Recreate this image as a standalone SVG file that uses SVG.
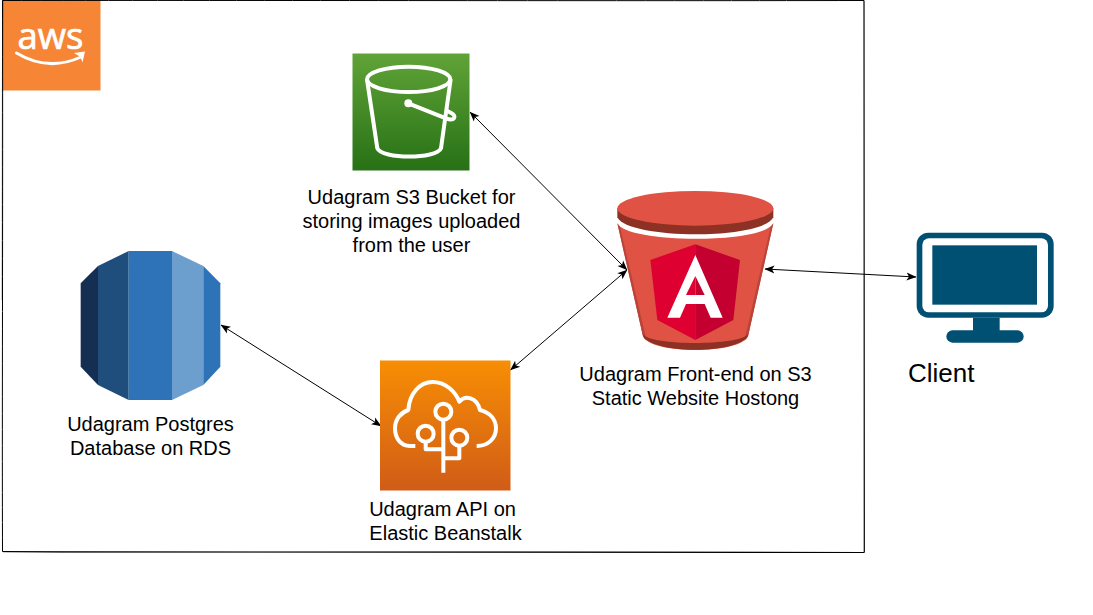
<svg xmlns="http://www.w3.org/2000/svg" width="1093" height="615" viewBox="0 0 1093 615">
<style>
.lbl{font-family:"Liberation Sans",Arial,sans-serif;font-size:20px;fill:#000;text-anchor:middle}
.conn{fill:none;stroke:#000;stroke-width:1;marker-start:url(#ah);marker-end:url(#ah)}
.w{fill:none;stroke:#fff;stroke-width:12;stroke-linejoin:round}
</style>
<defs>
<marker id="ah" viewBox="0 0 10 10" refX="9.500" refY="5" markerWidth="10" markerHeight="10" markerUnits="userSpaceOnUse" orient="auto-start-reverse"><path d="M0 1 L10 5 L0 9 L2.500 5Z" fill="#000"/></marker>
<linearGradient id="gs3" x1="0" y1="0" x2="0" y2="1"><stop offset="0" stop-color="#60a337"/><stop offset="1" stop-color="#277116"/></linearGradient>
<linearGradient id="geb" x1="0" y1="0" x2="0" y2="1"><stop offset="0" stop-color="#f78e04"/><stop offset="1" stop-color="#d05c17"/></linearGradient>
</defs>
<rect width="1093" height="615" fill="#fff"/>
<g id="aws-logo">
<rect x="2" y="0" width="98.500" height="90.500" fill="#f68536"/>
<text x="50.500" y="49" font-family="'Open Sans','Liberation Sans',sans-serif" font-size="36" fill="#fff" stroke="#fff" stroke-width=".7" text-anchor="middle" textLength="66" lengthAdjust="spacingAndGlyphs">aws</text>
<path d="M16.500 53 Q48 72 81 57" fill="none" stroke="#fff" stroke-width="3" stroke-linecap="round"/>
<path d="M74 53 L85 51.500 L82.500 62.500 L80.500 57 Z" fill="#fff"/>
</g>
<g id="frame" fill="none" stroke="#000">
<path d="M2.500 0.500 C200 0.200 600 1 864 0.500" stroke-width="1"/>
<path d="M864 0.500 C864.500 200 863.800 400 864.300 552.500" stroke-width="1.200"/>
<path d="M864.300 552.500 C600 552 300 553.500 2.500 551.500" stroke-width="1.200"/>
<path d="M2.500 551.500 C2 400 3 200 2.500 0.500" stroke-width="1"/>
<path d="M3 552 C300 552.500 500 551.500 780 552.500" stroke-width=".6" stroke-opacity=".6"/>
<path d="M2 300 C2.500 200 1.800 100 3 1" stroke-width=".6" stroke-opacity=".6"/>
</g>
<g id="connectors">
<path class="conn" d="M470 112 L627 270"/>
<path class="conn" d="M510.500 370 L627 270"/>
<path class="conn" d="M765 269 L916 277"/>
<path class="conn" d="M221 325 L381 426"/>
</g>
<g id="s3-bucket">
<rect x="352.500" y="53.500" width="117" height="117" fill="url(#gs3)"/>
<g transform="translate(340 40) scale(.33333)">
<ellipse cx="206" cy="118" rx="125" ry="38" class="w"/>
<path class="w" d="M81 118 L112 325 C125 358 290 358 303 325 L332 118"/>
<circle cx="205" cy="190" r="12" fill="#fff"/>
<path class="w" d="M205 190 L318 235 C345 245 350 228 335 220 L318 211"/>
</g>
<text class="lbl" x="411.500" y="204">Udagram S3 Bucket for</text>
<text class="lbl" x="411.500" y="228">storing images uploaded</text>
<text class="lbl" x="411.500" y="252">from the user</text>
</g>
<g id="frontend">
<g transform="translate(600 180) scale(.33333)">
<path d="M52 130 L128 465 C140 525 432 525 445 465 L520 130 C490 192 82 192 52 130Z" fill="#e05243"/>
<path d="M52 130 L128 465 C130 472 134 478 140 482 L60 140Z" fill="#b8443a"/>
<path d="M520 130 L445 465 C443 472 439 478 433 482 L512 140Z" fill="#b8443a"/>
<path d="M128 462 C140 525 432 525 445 462 C420 498 150 498 128 462Z" fill="#8c3123"/>
<path d="M52 85 V112 C85 180 487 180 520 112 V85Z" fill="#8c3123"/>
<ellipse cx="286" cy="85" rx="234" ry="52" fill="#e05243"/>
<path d="M286 193 L151 240 L172 420 L286 480Z" fill="#dd0031"/>
<path d="M286 193 L420 240 L400 420 L286 480Z" fill="#c3002f"/>
<path d="M286 225 L202 413 H240 L258 372 H314 L332 413 H368Z" fill="#fff"/>
<path d="M286 288 L258 345 H286Z" fill="#dd0031"/>
<path d="M286 288 L314 345 H286Z" fill="#c3002f"/>
</g>
<text class="lbl" x="695.500" y="381">Udagram Front-end on S3</text>
<text class="lbl" x="695.500" y="405">Static Website Hostong</text>
</g>
<g id="api">
<rect x="380" y="360.500" width="130.500" height="130" fill="url(#geb)"/>
<g transform="translate(370 350) scale(.33333)">
<path class="w" d="M136 288 H120 C90 288 75 262 75 235 C75 208 92 188 115 180 C118 130 150 96 188 96 C225 96 255 122 268 155 C285 135 320 140 330 180 C360 188 378 208 378 235 C378 265 355 288 320 288"/>
<circle cx="220" cy="185" r="24" class="w"/>
<circle cx="167" cy="251" r="24" class="w"/>
<circle cx="268" cy="263" r="24" class="w"/>
<path class="w" d="M220 209 V368 M167 275 V298 H220 M268 287 V325 H220"/>
</g>
<text class="lbl" x="442.500" y="516">Udagram API on</text>
<text class="lbl" x="445.500" y="540">Elastic Beanstalk</text>
</g>
<g id="rds">
<g transform="translate(70 240) scale(.33333)">
<path d="M32 130 L84 78 V435 L32 380Z" fill="#152f52"/>
<path d="M84 78 L176 33 V480 L84 435Z" fill="#1f4e7d"/>
<rect x="176" y="33" width="130" height="447" fill="#2e73b8"/>
<path d="M306 33 L400 78 V435 L306 480Z" fill="#6c9fce"/>
<path d="M400 78 L451 130 V380 L400 435Z" fill="#2e73b8"/>
</g>
<text class="lbl" x="150.500" y="431">Udagram Postgres</text>
<text class="lbl" x="150.500" y="455">Database on RDS</text>
</g>
<g id="client">
<g transform="translate(900 220) scale(.33333)">
<rect x="50" y="38" width="411" height="255" rx="35" fill="#005073"/>
<rect x="67" y="55" width="377" height="222" rx="20" fill="#fff"/>
<rect x="97" y="76" width="314" height="178" fill="#005073"/>
<rect x="219" y="293" width="80" height="40" fill="#005073"/>
<rect x="139" y="331" width="232" height="37" rx="18.500" fill="#005073"/>
</g>
<text x="908" y="382" font-family="'Liberation Sans',Arial,sans-serif" font-size="26" fill="#000">Client</text>
</g>
</svg>
